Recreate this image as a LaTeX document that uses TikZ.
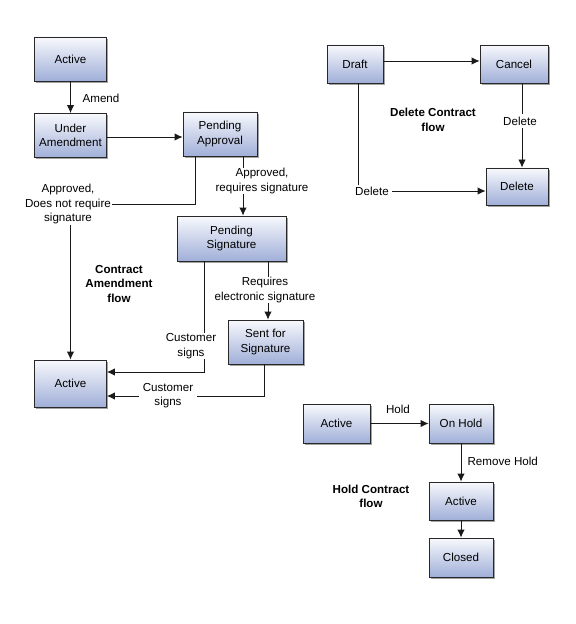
\documentclass[tikz,border=0pt]{standalone}
\usepackage{fontspec}
\setmainfont{Liberation Sans}
\usetikzlibrary{arrows.meta,shadows}
\newcommand\lblfont{\fontsize{11.6bp}{14.6bp}\selectfont}
\definecolor{boxtop}{RGB}{248,249,253}
\definecolor{boxbot}{RGB}{160,175,216}
\definecolor{boxline}{RGB}{40,40,40}
\begin{document}
\begin{tikzpicture}[x=1bp,y=-1bp,
  box/.style={draw=boxline, line width=0.9bp, top color=boxtop, bottom color=boxbot,
    drop shadow={shadow xshift=1.6bp, shadow yshift=-1.6bp, fill=black!45, opacity=0.8},
    align=center, inner sep=1bp, font=\lblfont},
  arr/.style={-{Latex[length=8bp,width=7.5bp]}, line width=0.9bp, draw=black!90},
  lbl/.style={fill=white, inner sep=0.4bp, align=center, font=\lblfont},
  plain/.style={inner sep=0.4bp, align=center, font=\lblfont},
  ttl/.style={align=center, font=\lblfont\bfseries}]
\useasboundingbox (0,0) rectangle (576,624);

% Contract amendment flow
\node[box,minimum width=72bp,minimum height=44bp] (a1) at (70.5,59) {Active};
\node[box,minimum width=72bp,minimum height=44bp] (ua) at (70.5,135.5) {Under\\Amendment};
\node[box,minimum width=74bp,minimum height=44bp] (pa) at (220,134) {Pending\\Approval};
\node[box,minimum width=109bp,minimum height=45bp] (ps) at (231.5,238.5) {Pending\\Signature};
\node[box,minimum width=75bp,minimum height=44bp] (sfs) at (265.5,342) {Sent for\\Signature};
\node[box,minimum width=72bp,minimum height=47bp] (a2) at (70.5,383.5) {Active};

% Delete contract flow
\node[box,minimum width=56bp,minimum height=38bp] (draft) at (355,64) {Draft};
\node[box,minimum width=68bp,minimum height=38bp] (cancel) at (514,64) {Cancel};
\node[box,minimum width=62bp,minimum height=37bp] (del) at (517,186.5) {Delete};

% Hold contract flow
\node[box,minimum width=67bp,minimum height=39bp] (ha) at (336.5,423.5) {Active};
\node[box,minimum width=64bp,minimum height=39bp] (oh) at (461,423.5) {On Hold};
\node[box,minimum width=64bp,minimum height=38bp] (a3) at (461,501) {Active};
\node[box,minimum width=64bp,minimum height=39bp] (closed) at (461,557.5) {Closed};

% connectors - amendment
\draw[arr] (a1) -- (ua);
\node[plain] (lamend) at (101,98) {Amend};
\draw[arr] ([yshift=-1.5bp]ua.east) -- ([yshift=-1.5bp]ua.east -| pa.west);

\coordinate (k1) at (195,204);
\draw[arr] (pa.south -| k1) -- (k1) -- (a2.north |- k1) -- (a2.north);
\node[lbl,inner sep=1bp] (lnoreq) at (68,204) {Approved,\\Does not require\\signature};

\draw[arr] ([xshift=23bp]pa.south) -- ([xshift=23bp]pa.south |- ps.north);
\node[lbl] (lreq) at (262,181) {Approved,\\requires signature};

\draw[arr] ([xshift=-27.5bp]ps.south) |- ([yshift=11.5bp]a2.east);
\node[lbl] (lcs1) at (191,346) {Customer\\signs};

\draw[arr] ([xshift=36.5bp]ps.south) -- ([xshift=36.5bp]ps.south |- sfs.north);
\node[lbl] (lelec) at (265,290) {Requires\\electronic signature};

\draw[arr] ([xshift=-1.5bp]sfs.south) |- ([yshift=-12.5bp]a2.east);
\node[lbl,inner xsep=4bp] (lcs2) at (168,395.5) {Customer\\signs};

\node[ttl] (tamend) at (119,284) {Contract\\Amendment\\flow};

% connectors - delete
\draw[arr] ([yshift=3bp]draft.east) -- ([yshift=3bp]draft.east -| cancel.west);
\draw[arr] ([xshift=3bp]draft.south) |- ([yshift=-4.5bp]del.west);
\node[lbl,inner xsep=3bp,inner ysep=2bp] (ldel1) at (372,191) {Delete};
\draw[arr] ([xshift=8bp]cancel.south) -- ([xshift=8bp]cancel.south |- del.north);
\node[lbl,inner ysep=3bp] (ldel2) at (520,121) {Delete};
\node[ttl] (tdel) at (433,120) {Delete Contract\\flow};

% connectors - hold
\draw[arr] (ha) -- (oh);
\node[plain] (lhold) at (398,409.5) {Hold};
\draw[arr] (oh) -- (a3);
\node[plain,anchor=west] (lrem) at (467,461) {Remove Hold};
\draw[arr] (a3) -- (closed);
\node[ttl] (thold) at (371,496.5) {Hold Contract\\flow};
\end{tikzpicture}
\end{document}
